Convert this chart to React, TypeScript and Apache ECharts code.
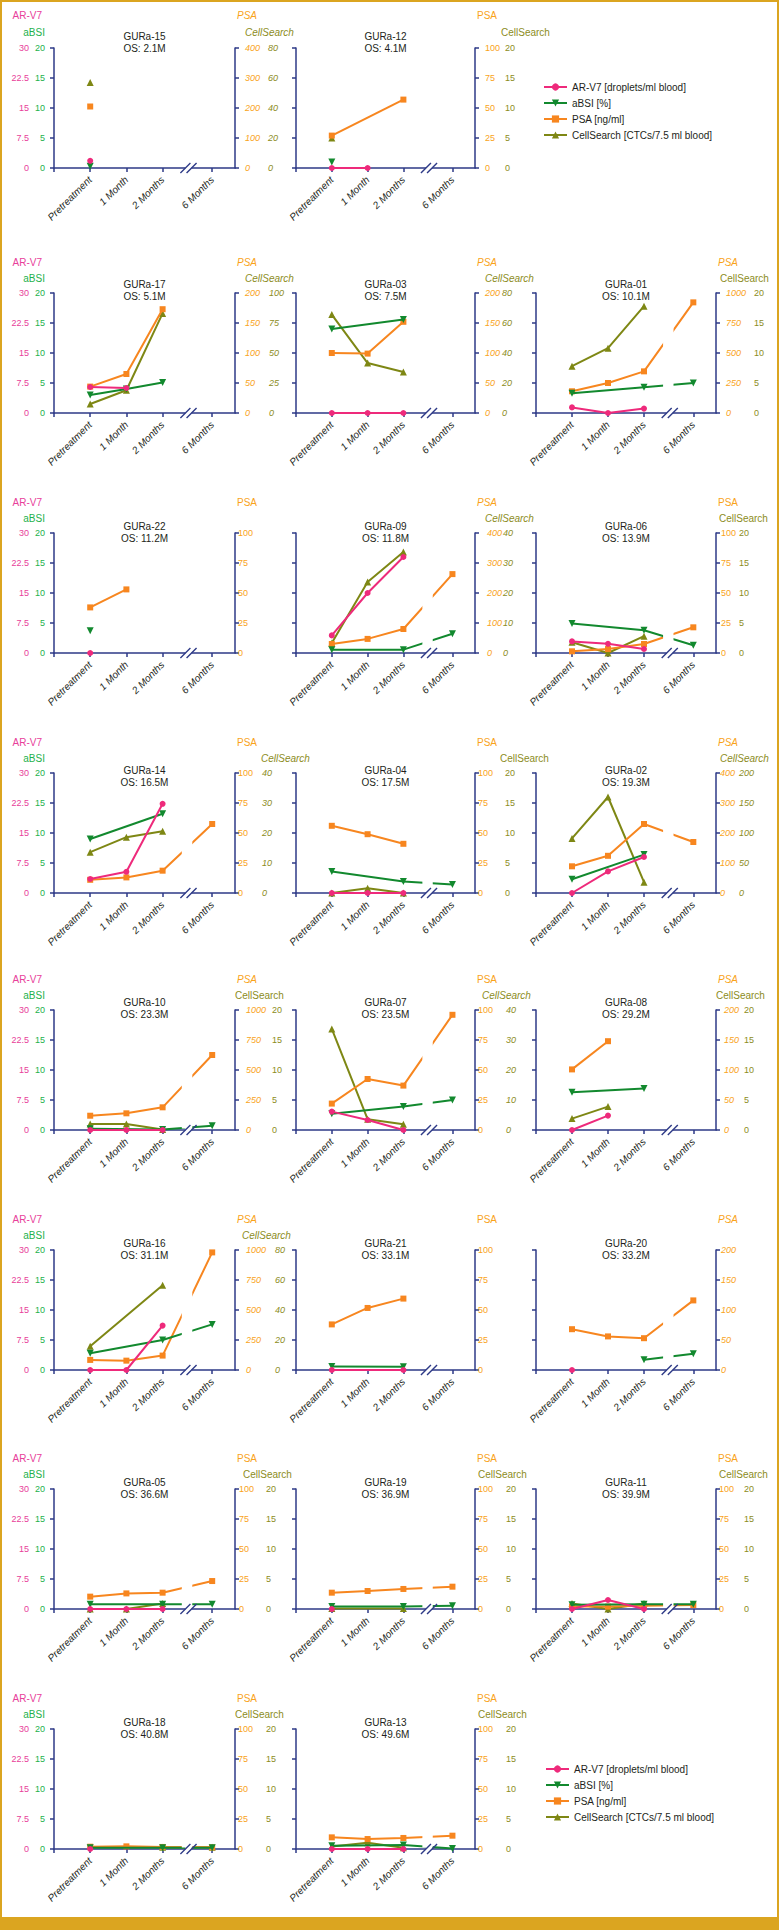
import React, { useEffect, useRef } from "react";
import * as echarts from "echarts";

// ---------------- data ----------------
const PATIENTS = [
  "GURa-15", "GURa-12",
  "GURa-17", "GURa-03", "GURa-01",
  "GURa-22", "GURa-09", "GURa-06",
  "GURa-14", "GURa-04", "GURa-02",
  "GURa-10", "GURa-07", "GURa-08",
  "GURa-16", "GURa-21", "GURa-20",
  "GURa-05", "GURa-19", "GURa-11",
  "GURa-18", "GURa-13",
];
const OS = [
  "2.1M", "4.1M",
  "5.1M", "7.5M", "10.1M",
  "11.2M", "11.8M", "13.9M",
  "16.5M", "17.5M", "19.3M",
  "23.3M", "23.5M", "29.2M",
  "31.1M", "33.1M", "33.2M",
  "36.6M", "36.9M", "39.9M",
  "40.8M", "49.6M",
];
const TIMEPOINTS = ["Pretreatment", "1 Month", "2 Months", "6 Months"];
const TIME_X = [1, 2, 3, 4.37];
const SERIES_NAMES = [
  "AR-V7 [droplets/ml blood]",
  "aBSI [%]",
  "PSA [ng/ml]",
  "CellSearch [CTCs/7.5 ml blood]",
];
const n = null;
// values per patient at [Pretreatment, 1 Month, 2 Months, 6 Months]
const AR_V7: (number | null)[][] = [
  [1.8, n, n, n], [0, 0, n, n],
  [6.5, 6.25, n, n], [0, 0, 0, n], [1.4, 0, 1.1, n],
  [0, n, n, n], [4.4, 15, 24, n], [2.9, 2.3, 1.0, n],
  [3.5, 5.3, 22.3, n], [0, 0, 0, n], [0, 5.4, 9.0, n],
  [0, 0, 0, n], [4.6, 2.5, 0, n], [0, 3.6, n, n],
  [0, 0, 11.1, n], [0, n, 0, n], [0, n, n, n],
  [0, 0, 0, n], [0, n, n, n], [0, 2.25, 0, n],
  [0, n, n, n], [0, 0, 0, n],
];
const ABSI: (number | null)[][] = [
  [0.3, n, n, n], [1.0, n, n, n],
  [3.0, 4.0, 5.1, n], [14, n, 15.6, n], [3.3, n, 4.3, 5.0],
  [3.7, n, n, n], [0.56, n, 0.56, 3.2], [4.9, n, 3.8, 1.3],
  [9.0, n, 13.2, n], [3.6, n, 1.9, 1.4], [2.3, n, 6.4, n],
  [0.2, n, 0.1, 0.7], [2.7, n, 3.9, 5.0], [6.3, n, 6.9, n],
  [2.8, n, 5.0, 7.6], [0.6, n, 0.56, n], [n, n, 1.7, 2.7],
  [0.8, n, 0.8, 0.8], [0.4, n, 0.4, 0.55], [0.7, n, 0.8, 0.8],
  [0.2, n, 0.2, 0.2], [0.56, n, 0.67, 0.1],
];
const PSA: (number | null)[][] = [
  [205, n, n, n], [27, n, 57, n],
  [44, 65, 173, n], [100, 99, 152, n], [181, 250, 347, 922],
  [38, 53, n, n], [30, 47, 80, 263], [1.4, 3.3, 7.5, 21.4],
  [11, 13, 18.6, 57.5], [56, 49, 41, n], [89, 124, 230, 170],
  [119, 139, 189, 625], [22, 42.5, 37, 96], [101, 148, n, n],
  [84, 78, 120, 980], [38, 51.7, 59.5, n], [68, 56, 53, 116],
  [10.3, 13, 13.6, 23.3], [13.6, 15, 16.7, 18.6], [2, 2, 2.8, 3.3],
  [1.9, 2.2, 1.7, 1.4], [9.7, 8.3, 9.2, 11.1],
];
const CELLSEARCH: (number | null)[][] = [
  [57, n, n, n], [5, n, n, n],
  [7.5, 19, 83, n], [65.6, 33.3, 27.3, n], [7.8, 10.8, 17.8, n],
  [n, n, n, n], [3.3, 23.7, 33.7, n], [1.8, 0, 2.8, n],
  [13.6, 18.6, 20.6, n], [0, 0.8, 0, n], [91, 160, 18, n],
  [1.0, 1.0, 0.1, n], [33.7, 3.6, 1.9, n], [1.9, 3.9, n, n],
  [15.9, n, 56.5, n], [n, n, n, n], [n, n, n, n],
  [0, 0, 0.9, n], [0.1, n, 0.1, n], [0.9, 0, 0.9, n],
  [n, n, 0.3, 0.3], [0.4, 1.05, 0.2, n],
];
// axis ranges
const AR_MAX = 30;
const ABSI_MAX = 20;
const PSA_MAX = [400, 100, 200, 200, 1000, 100, 400, 100, 100, 100, 400, 1000, 100, 200, 1000, 100, 200, 100, 100, 100, 100, 100];
const CS_MAX: (number | null)[] = [80, 20, 100, 80, 20, null, 40, 20, 40, 20, 200, 20, 40, 20, 80, null, null, 20, 20, 20, 20, 20];

// ---------------- layout / style ----------------
const PSA_ITALIC = [1, 0, 1, 1, 1, 0, 1, 0, 0, 0, 1, 1, 0, 1, 1, 0, 1, 0, 0, 0, 0, 0];
const CS_ITALIC = [1, 0, 1, 1, 0, 0, 1, 0, 1, 0, 1, 0, 1, 0, 1, 0, 0, 0, 0, 0, 0, 0];
const PSA_GAP = [10, 10, 10, 10, 10, 3, 12, 5, 3, 3, 4, 11, 3, 8, 11, 3, 5, 4, 3, 3, 3, 3];
const CS_GAP = [33, 30, 34, 27, 38, 30, 28, 23, 27, 30, 23, 37, 31, 28, 40, 30, 30, 31, 31, 28, 31, 31];
const CS_HEAD_DX = [10, 26, 10, 10, 4, 0, 10, 3, 26, 25, 4, 0, 7, 0, 7, 0, 0, 8, 3, 3, 0, 3];
const ROW_TOPS = [48, 293, 533, 773, 1010, 1250, 1489, 1729];
const TITLE_DY = [-5, -2, 0.5, 4, -1, 0, 0, 0];
const COL_LEFTS = [54, 296, 536];
const COL_WIDTHS = [181, 179, 180];
const PLOT_H = 120;

const NAVY = "#2E3A87";
const C_AR = "#EE2A7B";
const C_ABSI = "#12892E";
const C_PSA = "#F7861F";
const C_CS = "#7E8714";
const L_AR = "#E8409A";
const L_ABSI = "#22B14C";
const L_PSA = "#F9A31A";
const L_CS = "#8C8C1C";
const GOLD = "#DBA520";
const TXT = "#231F20";
const FONT = "'Liberation Sans', Arial, Helvetica, sans-serif";

function cell(i: number) {
  if (i < 2) return { row: 0, col: i };
  if (i < 20) return { row: 1 + Math.floor((i - 2) / 3), col: (i - 2) % 3 };
  return { row: 7, col: i - 20 };
}

function pts(vals: (number | null)[]) {
  const out: number[][] = [];
  vals.forEach((v, j) => {
    if (v !== null && v !== undefined) out.push([TIME_X[j], v]);
  });
  return out;
}

function buildOption() {
  const grid: any[] = [];
  const xAxis: any[] = [];
  const yAxis: any[] = [];
  const series: any[] = [];
  const fmt = (v: number) => String(v);

  PATIENTS.forEach((_, i) => {
    const { row, col } = cell(i);
    grid.push({
      left: COL_LEFTS[col],
      top: ROW_TOPS[row],
      width: COL_WIDTHS[col],
      height: PLOT_H,
      containLabel: false,
    });
    xAxis.push({
      gridIndex: i,
      type: "value",
      min: 0,
      max: 5,
      axisLine: { show: true, onZero: false, lineStyle: { color: NAVY, width: 1.5 } },
      axisTick: { show: true, customValues: [0, ...TIME_X], length: 4, lineStyle: { color: NAVY, width: 1.5 } },
      axisLabel: {
        show: true,
        customValues: TIME_X,
        formatter: (v: number) => {
          let best = 0;
          TIME_X.forEach((t, k) => {
            if (Math.abs(t - v) < Math.abs(TIME_X[best] - v)) best = k;
          });
          return TIMEPOINTS[best];
        },
        rotate: 45,
        fontStyle: "italic",
        fontSize: 10,
        color: TXT,
        margin: 10,
      },
      splitLine: { show: false },
    });
    const lbl = (show: boolean, color: string, margin: number, italic: boolean) => ({
      show,
      color,
      margin,
      fontSize: 9,
      fontStyle: italic ? "italic" : "normal",
      formatter: fmt,
    });
    yAxis.push({
      gridIndex: i, type: "value", position: "left", min: 0, max: AR_MAX, interval: AR_MAX / 4,
      axisLine: { show: true, lineStyle: { color: NAVY, width: 1.5 } },
      axisTick: { show: true, length: 4, lineStyle: { color: NAVY, width: 1.5 } },
      axisLabel: lbl(col === 0, L_AR, 25, false),
      splitLine: { show: false },
    });
    yAxis.push({
      gridIndex: i, type: "value", position: "left", min: 0, max: ABSI_MAX, interval: ABSI_MAX / 4,
      axisLine: { show: false }, axisTick: { show: false },
      axisLabel: lbl(col === 0, L_ABSI, 9, false),
      splitLine: { show: false },
    });
    yAxis.push({
      gridIndex: i, type: "value", position: "right", min: 0, max: PSA_MAX[i], interval: PSA_MAX[i] / 4,
      axisLine: { show: true, lineStyle: { color: NAVY, width: 1.5 } },
      axisTick: { show: true, length: 4, lineStyle: { color: NAVY, width: 1.5 } },
      axisLabel: lbl(true, L_PSA, PSA_GAP[i], !!PSA_ITALIC[i]),
      splitLine: { show: false },
    });
    const csMax = CS_MAX[i] ?? 20;
    yAxis.push({
      gridIndex: i, type: "value", position: "right", min: 0, max: csMax, interval: csMax / 4,
      axisLine: { show: false }, axisTick: { show: false },
      axisLabel: lbl(CS_MAX[i] !== null, L_CS, CS_GAP[i], !!CS_ITALIC[i]),
      splitLine: { show: false },
    });

    const defs = [
      { vals: AR_V7[i], color: C_AR, symbol: "circle", size: 6, rot: 0, z: 6 },
      { vals: ABSI[i], color: C_ABSI, symbol: "triangle", size: 7, rot: 180, z: 5 },
      { vals: PSA[i], color: C_PSA, symbol: "rect", size: 6, rot: 0, z: 4 },
      { vals: CELLSEARCH[i], color: C_CS, symbol: "triangle", size: 7, rot: 0, z: 3 },
    ];
    defs.forEach((d, k) => {
      series.push({
        type: "line",
        name: SERIES_NAMES[k],
        xAxisIndex: i,
        yAxisIndex: 4 * i + k,
        data: pts(d.vals),
        symbol: d.symbol,
        symbolSize: d.size,
        symbolRotate: d.rot,
        showSymbol: true,
        lineStyle: { color: d.color, width: 2 },
        itemStyle: { color: d.color },
        z: d.z,
        clip: false,
        emphasis: { disabled: true },
      });
    });
  });

  const legendBase = {
    orient: "vertical",
    itemGap: 6,
    itemWidth: 23,
    itemHeight: 9,
    selectedMode: false,
    textStyle: { fontSize: 10, color: TXT, fontFamily: FONT },
    data: SERIES_NAMES,
  };

  return {
    animation: false,
    backgroundColor: "#ffffff",
    textStyle: { fontFamily: FONT },
    grid,
    xAxis,
    yAxis,
    series,
    legend: [
      { ...legendBase, left: 538, top: 77 },
      { ...legendBase, left: 540, top: 1759 },
    ],
  };
}

function buildGraphics(chart: any) {
  const g: any[] = [];
  const text = (x: number, y: number, t: string, color: string, align: string, italic = false, size = 10) => ({
    type: "text",
    x,
    y,
    z: 20,
    style: {
      text: t,
      fill: color,
      fontSize: size,
      fontFamily: FONT,
      fontStyle: italic ? "italic" : "normal",
      align,
      textAlign: align,
      verticalAlign: "middle",
      textVerticalAlign: "middle",
    },
  });
  // frame
  g.push({ type: "rect", shape: { x: 0, y: 0, width: 779, height: 2 }, style: { fill: GOLD }, z: 30 });
  g.push({ type: "rect", shape: { x: 0, y: 0, width: 2, height: 1930 }, style: { fill: GOLD }, z: 30 });
  g.push({ type: "rect", shape: { x: 777, y: 0, width: 2, height: 1930 }, style: { fill: GOLD }, z: 30 });
  g.push({ type: "rect", shape: { x: 0, y: 1917, width: 779, height: 13 }, style: { fill: GOLD }, z: 30 });

  PATIENTS.forEach((p, i) => {
    const { row, col } = cell(i);
    const L = COL_LEFTS[col];
    const W = COL_WIDTHS[col];
    const T = ROW_TOPS[row];
    const R = L + W;
    const dy = TITLE_DY[row];
    g.push(text(L + W / 2, T - 7 + dy, p, TXT, "center"));
    g.push(text(L + W / 2, T + 5 + dy, "OS: " + OS[i], TXT, "center"));
    const hy1 = row === 0 ? T - 33 : T - 31;
    const hy2 = row === 0 ? T - 16 : T - 15;
    if (col === 0) {
      g.push(text(L - 12, hy1, "AR-V7", L_AR, "right"));
      g.push(text(L - 9, hy2, "aBSI", L_ABSI, "right"));
    }
    g.push(text(R + 2, hy1, "PSA", L_PSA, "left", !!PSA_ITALIC[i]));
    if (CS_MAX[i] !== null) {
      g.push(text(R + CS_HEAD_DX[i], hy2, "CellSearch", L_CS, "left", !!CS_ITALIC[i]));
    }
    // axis break
    const px = (x: number) => chart.convertToPixel({ xAxisIndex: i }, x);
    const yB = chart.convertToPixel({ yAxisIndex: 4 * i }, 0);
    const yT = chart.convertToPixel({ yAxisIndex: 4 * i }, AR_MAX);
    const g0 = px(3.53);
    const g1 = px(3.82);
    g.push({ type: "rect", shape: { x: g0, y: yT, width: g1 - g0, height: yB - yT - 1.5 }, style: { fill: "#ffffff" }, z: 10 });
    const s1 = px(3.63);
    const s2 = px(3.8);
    g.push({ type: "rect", shape: { x: s1, y: yB - 2, width: s2 - s1, height: 4 }, style: { fill: "#ffffff" }, z: 10 });
    [s1, s2].forEach((s) => {
      g.push({
        type: "line",
        shape: { x1: s - 5, y1: yB + 5, x2: s + 5, y2: yB - 5 },
        style: { stroke: NAVY, lineWidth: 1.4 },
        z: 11,
      });
    });
  });
  return g;
}

export default function App() {
  const ref = useRef<HTMLDivElement>(null);
  useEffect(() => {
    if (!ref.current) return;
    const chart = echarts.init(ref.current, undefined, { renderer: "svg" });
    chart.setOption(buildOption() as any);
    chart.setOption({ graphic: { elements: buildGraphics(chart) } } as any);
    return () => chart.dispose();
  }, []);
  return (
    <div
      ref={ref}
      style={{ position: "absolute", left: 0, top: 0, width: 779, height: 1930, background: "#fff" }}
    />
  );
}
